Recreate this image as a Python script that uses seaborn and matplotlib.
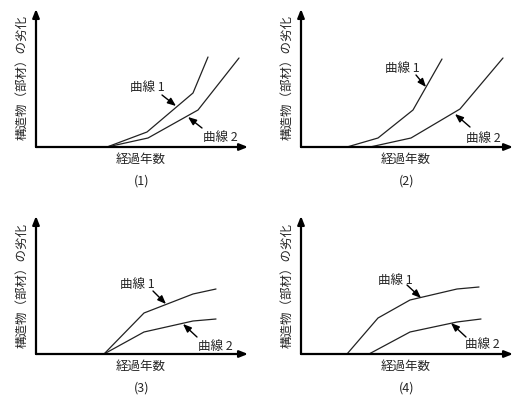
import matplotlib
matplotlib.use("Agg")
import matplotlib.pyplot as plt
import seaborn as sns

# conceptual curves: elapsed years vs. deterioration (arbitrary units)
years_p1_c1 = [71, 111, 157, 172]
deg_p1_c1 = [0, 15, 54, 90]
years_p1_c2 = [71, 112, 162, 203]
deg_p1_c2 = [0, 9, 37, 89]

years_p2_c1 = [46, 77, 112, 141]
deg_p2_c1 = [0, 9, 37, 88]
years_p2_c2 = [69, 110, 159, 202]
deg_p2_c2 = [0, 9, 38, 89]

years_p3_c1 = [68, 108, 157, 180]
deg_p3_c1 = [0, 41, 60, 65]
years_p3_c2 = [68, 108, 157, 180]
deg_p3_c2 = [0, 22, 33, 35]

years_p4_c1 = [46, 77, 109, 156, 178]
deg_p4_c1 = [0, 36, 54, 65, 67]
years_p4_c2 = [68, 109, 156, 180]
deg_p4_c2 = [0, 22, 32, 35]

panel_labels = ["(1)", "(2)", "(3)", "(4)"]
curve_names = ["曲線 1", "曲線 2"]
xlabel = "経過年数"
ylabel = "構造物（部材）の劣化"

curves = [
    [(years_p1_c1, deg_p1_c1), (years_p1_c2, deg_p1_c2)],
    [(years_p2_c1, deg_p2_c1), (years_p2_c2, deg_p2_c2)],
    [(years_p3_c1, deg_p3_c1), (years_p3_c2, deg_p3_c2)],
    [(years_p4_c1, deg_p4_c1), (years_p4_c2, deg_p4_c2)],
]

# layout: axes origin in pixels, and label/arrow placement per panel
W, H = 516, 398
origins = [(36, 147), (301, 147), (36, 354), (301, 354)]
# (text pos, arrow tail, arrow head) for curve 1 and curve 2
callouts = [
    [((94, 60), (126, 52), (140, 41)), ((167, 10), (166, 19), (152, 30))],
    [((84, 79), (115, 72), (125, 60)), ((165, 9), (169, 20), (154, 33))],
    [((84, 70), (117, 63), (130, 50)), ((162, 8), (161, 17), (147, 30))],
    [((77, 74), (106, 69), (120, 56)), ((164, 10), (165, 17), (150, 31))],
]

sns.set_style("white")
plt.rcParams['font.family'] = ['Noto Sans CJK JP', 'DejaVu Sans']

fig = plt.figure(figsize=(W / 100, H / 100), dpi=100)

for i, (ox, oy) in enumerate(origins):
    ax = fig.add_axes([ox / W, (H - oy) / H, 212 / W, 138 / H])
    for xs, ys in curves[i]:
        sns.lineplot(x=xs, y=ys, ax=ax, color="#222222", lw=0.9,
                     sort=False, estimator=None)
    ax.set_xlim(0, 212)
    ax.set_ylim(0, 138)
    ax.axis("off")

    # axes with arrow heads
    ax.annotate("", xy=(1, 0), xytext=(0, 0), xycoords="axes fraction",
                arrowprops=dict(arrowstyle="-|>,head_length=0.5,head_width=0.2",
                                color="black", lw=1.6, shrinkA=0, shrinkB=0))
    ax.annotate("", xy=(0, 1), xytext=(0, 0), xycoords="axes fraction",
                arrowprops=dict(arrowstyle="-|>,head_length=0.5,head_width=0.2",
                                color="black", lw=1.6, shrinkA=0, shrinkB=0))

    for name, (tpos, tail, head) in zip(curve_names, callouts[i]):
        ax.text(tpos[0], tpos[1], name, fontsize=9, ha="left", va="center")
        ax.annotate("", xy=head, xytext=tail,
                    arrowprops=dict(arrowstyle="-|>,head_length=0.5,head_width=0.2",
                                    color="black", lw=1, shrinkA=0, shrinkB=0))

    ax.text(-14, 69, ylabel, rotation=90, fontsize=9, ha="center", va="center")
    ax.text(105, -12, xlabel, fontsize=9, ha="center", va="center")
    ax.text(106, -34, panel_labels[i], fontsize=9, ha="center", va="center")

fig.savefig("out.png", dpi=100)
